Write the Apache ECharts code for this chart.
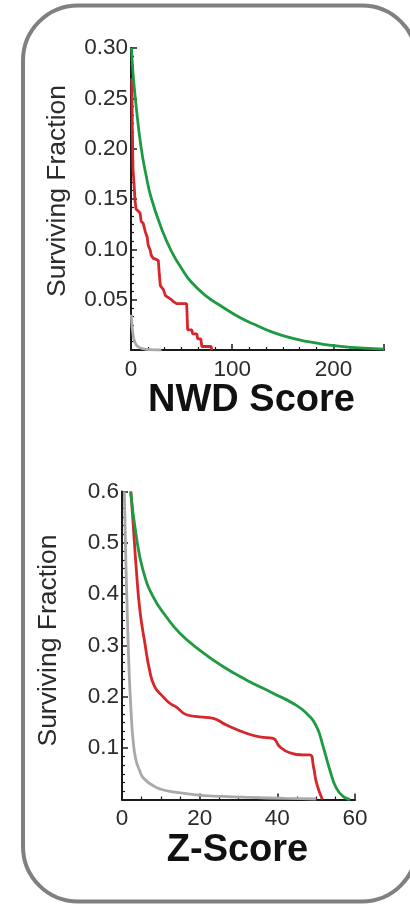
<!DOCTYPE html>
<html>
<head>
<meta charset="utf-8">
<script src="https://cdn.jsdelivr.net/npm/echarts@6/dist/echarts.min.js"></script>
<style>
  html, body { margin: 0; padding: 0; background: #fff; }
  #chart { width: 410px; height: 906px; }
</style>
</head>
<body>
<div id="chart"></div>
<script>
// NWD score panel
const nwdXLabels = ["0", "100", "200"];
const nwdYLabels = ["0.05", "0.10", "0.15", "0.20", "0.25", "0.30"];
const nwdGreen = [[0.5, 0.30], [2, 0.275], [5, 0.243], [10, 0.201], [15, 0.173], [20, 0.151], [30, 0.121],
  [40, 0.098], [50, 0.081], [60, 0.067], [75, 0.053], [90, 0.043], [108, 0.032], [125, 0.024],
  [141, 0.0172], [160, 0.0115], [175, 0.0083], [190, 0.0057], [207, 0.0037], [230, 0.0019], [250, 0.0009]];
const nwdRed = [[0.8, 0.27], [1.3, 0.22], [2.0, 0.18], [3, 0.165], [4, 0.148], [5, 0.140], [9, 0.136], [10, 0.128],
  [12, 0.126], [14, 0.118], [16, 0.112], [17, 0.104], [19, 0.099], [20, 0.094], [22, 0.091], [25, 0.090],
  [27, 0.089], [28, 0.075], [29, 0.064], [32, 0.060], [34, 0.054], [37, 0.052], [40, 0.050], [42, 0.048],
  [45, 0.046], [55, 0.046], [56, 0.020], [60, 0.020], [61, 0.016], [65, 0.016], [66, 0.011], [69, 0.011],
  [70, 0.0035], [79, 0.0035], [80, 0]];
const nwdGray = [[0.3, 0.035], [1, 0.024], [2, 0.016], [3, 0.010], [5, 0.0055], [7, 0.0033], [10, 0.0017],
  [15, 0.0007], [22, 0.0002], [30, 0]];

// Z-score panel
const zXLabels = ["0", "20", "40", "60"];
const zYLabels = ["0.1", "0.2", "0.3", "0.4", "0.5", "0.6"];
const zGreen = [[2.2, 0.60], [3.7, 0.512], [5.4, 0.447], [8, 0.395], [11.4, 0.356], [14.9, 0.324], [20, 0.291],
  [26, 0.259], [32, 0.233], [38.9, 0.207], [44.1, 0.187], [47.5, 0.168], [50.1, 0.142], [51.8, 0.103],
  [53.5, 0.058], [55.2, 0.022], [57, 0.0055], [58.7, 0]];
const zRed = [[2.3, 0.60], [2.8, 0.545], [3.7, 0.447], [4.6, 0.369], [5.9, 0.304], [7.1, 0.252], [8.4, 0.22],
  [10.6, 0.20], [12.2, 0.188], [14, 0.18], [16.6, 0.165], [20, 0.161], [23.5, 0.158], [26.9, 0.145],
  [32, 0.129], [35.5, 0.122], [38.9, 0.119], [40.6, 0.103], [43.2, 0.091], [46.6, 0.087], [48.4, 0.087],
  [49.3, 0.064], [50.1, 0.032], [51.6, 0]];
const zGray = [[0.6, 0.60], [1.0, 0.46], [1.3, 0.38], [1.6, 0.30], [2.0, 0.22], [2.5, 0.15], [2.8, 0.12],
  [3.5, 0.08], [4.6, 0.055], [5.5, 0.042], [8, 0.027], [10, 0.02], [13, 0.015], [19, 0.009], [26, 0.006],
  [33, 0.004], [42, 0.002], [50, 0.001]];

const GREEN = "#1e9a43";
const RED = "#d6262b";
const GRAY = "#a9a9a9";
const INK = "#1a1a1a";
const FONT = "Liberation Sans";

function pick(labels, digits) {
  return (v) => {
    const s = v.toFixed(digits);
    return labels.includes(s) ? s : "";
  };
}

function xAxis(grid, max, interval, minor, labels, name, pad) {
  return {
    type: "value", gridIndex: grid, min: 0, max, interval,
    axisLine: { lineStyle: { color: INK, width: 2 } },
    axisTick: { inside: true, length: 6, lineStyle: { color: INK, width: 1.5 } },
    minorTick: { show: true, splitNumber: minor, length: 3, lineStyle: { color: INK, width: 1.2 } },
    splitLine: { show: false },
    axisLabel: { color: "#2b2b2b", fontSize: 22.5, fontFamily: FONT, margin: 8, formatter: pick(labels, 0) },
    name, nameLocation: "middle", nameGap: 24,
    nameTextStyle: { color: "#111", fontSize: 38, fontWeight: "bold", fontFamily: FONT, padding: pad },
  };
}

function yAxis(grid, max, interval, minor, labels, digits, pad) {
  return {
    type: "value", gridIndex: grid, min: 0, max, interval,
    axisLine: { lineStyle: { color: INK, width: 2 } },
    axisTick: { inside: true, length: 6, lineStyle: { color: INK, width: 1.5 } },
    minorTick: { show: true, splitNumber: minor, length: 3, lineStyle: { color: INK, width: 1.2 } },
    splitLine: { show: false },
    axisLabel: { color: "#2b2b2b", fontSize: 22.5, fontFamily: FONT, margin: 3, formatter: pick(labels, digits) },
    name: "Surviving Fraction", nameLocation: "middle", nameGap: 60,
    nameTextStyle: { color: "#2b2b2b", fontSize: 26.5, fontFamily: FONT, padding: pad },
  };
}

function curve(grid, data, color, smooth, z) {
  return {
    type: "line", xAxisIndex: grid, yAxisIndex: grid, data, smooth,
    showSymbol: false, symbol: "none", z,
    lineStyle: { color, width: 2.8 },
  };
}

const chart = echarts.init(document.getElementById("chart"), null, { renderer: "canvas" });
chart.setOption({
  animation: false,
  backgroundColor: "#fff",
  grid: [
    { left: 131, right: 26, top: 48, height: 302 },
    { left: 122, right: 55, top: 491.5, height: 308 },
  ],
  xAxis: [
    xAxis(0, 250, 100, 6, nwdXLabels, "NWD Score", [0, 12, 0, 0]),
    xAxis(1, 60, 20, 4, zXLabels, "Z-Score", [0, 2, 0, 0]),
  ],
  yAxis: [
    yAxis(0, 0.30, 0.05, 6, nwdYLabels, 2, [0, 0, 0, 16]),
    yAxis(1, 0.6, 0.1, 6, zYLabels, 1, [0, 0, 0, 10]),
  ],
  series: [
    curve(0, nwdGray, GRAY, true, 2),
    curve(0, nwdRed, RED, false, 3),
    curve(0, nwdGreen, GREEN, true, 4),
    curve(1, zGray, GRAY, true, 2),
    curve(1, zRed, RED, true, 3),
    curve(1, zGreen, GREEN, true, 4),
  ],
  graphic: [{
    type: "rect", silent: true, z: 10,
    shape: { x: 23, y: 5.5, width: 394, height: 896, r: 55 },
    style: { fill: null, stroke: "#808080", lineWidth: 4 },
  }],
});
</script>
</body>
</html>
